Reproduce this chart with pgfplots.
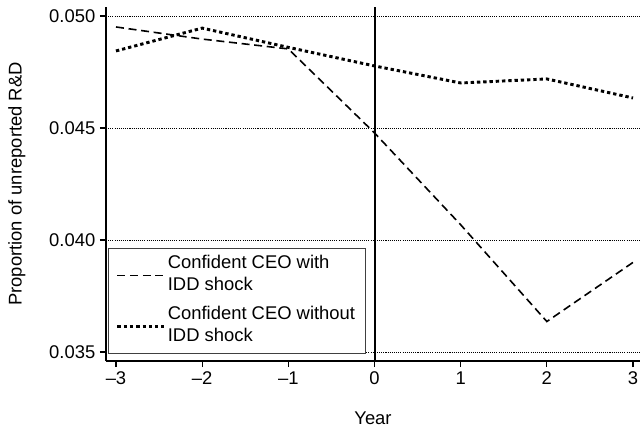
\documentclass[border=0pt]{standalone}
\usepackage{fontspec}
\setmainfont{Liberation Sans}
\usepackage{pgfplots}
\pgfplotsset{compat=1.18}
\newcommand\fs{\fontsize{13.8}{16.5}\selectfont}
\begin{document}
\begin{tikzpicture}[font=\fs]
\begin{axis}[
  name=ax,
  scale only axis,
  width=400.5pt, height=265.5pt,
  xmin=-3.116, xmax=3.081,
  ymin=0.034598, ymax=0.050402,
  axis lines=left,
  axis line style={-, line width=0.9pt},
  xtick={-3,-2,-1,0,1,2,3},
  xticklabels={--3,--2,--1,0,1,2,3},
  ytick={0.035,0.040,0.045,0.050},
  yticklabel style={/pgf/number format/.cd, fixed, fixed zerofill, precision=3, assume math mode=true},
  tick label style={font=\fs},
  label style={font=\fs},
  scaled y ticks=false,
  tick style={black, line width=0.9pt},
  major tick length=4.5pt,
  tick align=outside,
  ymajorgrids,
  major grid style={black, line width=0.4pt, dash pattern=on 0.8pt off 0.8pt},
  xlabel={Year},
  ylabel={Proportion of unreported R\&D},
  xlabel style={at={(axis description cs:0.5,-0.161)}, anchor=center},
  ylabel style={at={(axis description cs:-0.167,0.5)}, anchor=center},
  legend style={at={(axis description cs:0.004,0.02)}, anchor=south west,
    draw=black!75, line width=0.8pt, inner xsep=5.5pt, inner ysep=2pt,
    nodes={font=\fs, text depth=, text height=},
    row sep=1pt,
    /tikz/every even column/.append style={column sep=3pt}},
  legend cell align=left,
  legend image code/.code={\draw[#1] (0cm,0cm) -- (1.22cm,0cm);},
]
\addplot[black, line width=1.2pt, dash pattern=on 6pt off 3.5pt] coordinates {
(-3,0.04951) (-2,0.04897) (-1,0.04853) (0,0.04478) (1,0.04068) (2,0.03636) (3,0.03900)};
\addlegendentry{\begin{tabular}[t]{@{}l@{}}Confident CEO with\\IDD shock\end{tabular}}
\addplot[black, line width=2.2pt, dash pattern=on 2.5pt off 2.2pt] coordinates {
(-3,0.04844) (-2,0.04946) (-1,0.04860) (0,0.04777) (1,0.04701) (2,0.04719) (3,0.04634)};
\addlegendentry{\begin{tabular}[t]{@{}l@{}}Confident CEO without\\IDD shock\end{tabular}}
\addplot[black, line width=1.5pt, forget plot] coordinates {(0,0.034598) (0,0.050402)};
\end{axis}
\pgfresetboundingbox
\useasboundingbox (ax.south west) ++(-79.5pt,-51pt) rectangle (ax.north east) ++(0pt,5.25pt);
\end{tikzpicture}
\end{document}
